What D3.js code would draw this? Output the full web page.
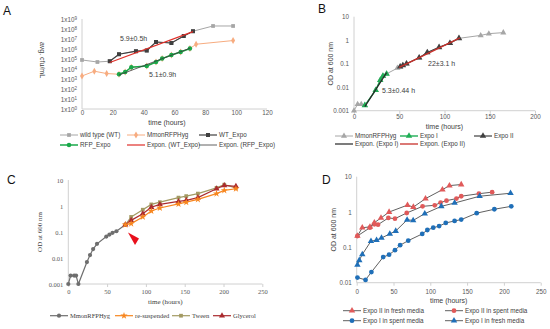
<!DOCTYPE html>
<html>
<head>
<meta charset="utf-8">
<script src="https://cdn.jsdelivr.net/npm/d3@7"></script>
<style>
  body { margin: 0; background: #fff; }
  svg { display: block; font-family: "Liberation Sans", Arial, sans-serif; }
  .serif { font-family: "Liberation Serif", "Times New Roman", serif; }
</style>
</head>
<body>
<svg id="chart" width="550" height="329"></svg>
<script>
// ---------- panel A data (hours, cfu/mL) ----------
const wtData      = [[0,8e4],[10,5e4],[18,6e4],[24,3e5],[35,6e5],[42,7e5],[48,5e6],[58,4e6],[66,2e7],[72,6e7],[85,2e8],[98,2e8]];
const wtExpoData  = [[18,6e4],[24,3e5],[35,6e5],[42,7e5],[48,5e6],[58,4e6],[66,2e7],[72,6e7]];
const rfpData     = [[0,2e3],[8,6e3],[16,3.5e3],[24,3e3],[28,5e3],[32,1.5e4],[42,2e4],[48,5e4],[52,1.1e5],[58,2.5e5],[64,5e5],[70,1.1e6],[74,3e6],[98,7e6]];
const rfpExpoData = [[24,3e3],[28,5e3],[32,1.5e4],[42,2e4],[48,5e4],[52,1.1e5],[58,2.5e5],[64,5e5],[70,1.1e6]];
const wtFit       = [[18,4.5e4],[72,5.4e7]];
const rfpFit      = [[24,2.5e3],[70,1.2e6]];
const aYTicks     = [1,1e1,1e2,1e3,1e4,1e5,1e6,1e7,1e8,1e9];
const aXTicks     = [0,20,40,60,80,100,120];

// ---------- panel B data (hours, OD600) ----------
const mmonB   = [[0,0.001],[4,0.0019],[8,0.0019],[12,0.0017],[24,0.0075],[29,0.02],[32,0.03],[36,0.037],[48,0.065],[51,0.075],[54,0.085],[58,0.1],[72,0.18],[81,0.3],[94,0.5],[106,0.75],[116,1.2],[140,1.6],[149,1.9],[165,2.1]];
const expoI   = [[12,0.0017],[24,0.0075],[29,0.02],[32,0.03],[36,0.037]];
const expoII  = [[51,0.075],[54,0.085],[58,0.1],[72,0.18],[81,0.3],[94,0.5],[106,0.75],[116,1.2]];
const expoIFit  = [[12,0.0015],[36,0.042]];
const expoIIFit = [[50,0.07],[117,1.25]];
const bYTicks = [0.001,0.01,0.1,1,10];
const bXTicks = [0,50,100,150,200];

// ---------- panel C data (hours, OD600) ----------
const mmonC       = [[0,0.001],[3,0.0021],[7.5,0.0021],[10,0.0021],[13,0.001],[24,0.007],[28,0.013],[32,0.022],[37,0.035],[49,0.067],[53,0.08],[57,0.093],[62,0.107],[73.5,0.19]];
const resuspended = [[73.5,0.19],[81,0.21],[96,0.38],[107,0.64],[118,0.84],[142,1.2],[152,1.4],[167,1.8],[191,3.0],[201,4.0],[216,4.6]];
const tween       = [[73.5,0.19],[81,0.38],[96,0.72],[107,1.15],[118,1.4],[142,2.1],[152,2.4],[167,3.0],[191,5.0],[201,6.6],[216,5.0]];
const glycerol    = [[73.5,0.19],[81,0.28],[96,0.5],[107,0.9],[118,1.15],[142,1.5],[152,1.65],[167,2.1],[191,4.6],[201,6.2],[216,5.7]];
const cYTicks = [0.001,0.01,0.1,1,10];
const cXTicks = [0,50,100,150,200,250];

// ---------- panel D data (hours, OD600) ----------
const expoIIFresh = [[1,0.21],[7.6,0.36],[18,0.38],[24,0.5],[33,0.68],[44,1.0],[69,1.57],[77,1.38],[93.5,2.4],[116.5,4.3],[126,5.6],[142,6.0]];
const expoIISpent = [[1,0.21],[18,0.36],[24,0.45],[29,0.44],[43,0.68],[52,0.65],[68,0.94],[89.5,1.45],[106,1.55],[114,1.85],[122,2.1],[135.5,2.4],[142,2.8],[166,3.3],[184,3.65]];
const expoISpent  = [[1,0.014],[12,0.012],[20,0.02],[36,0.053],[44,0.062],[52,0.083],[59,0.115],[70,0.155],[89,0.24],[96,0.31],[104,0.36],[112,0.4],[121,0.49],[133,0.56],[142,0.61],[163,0.93],[187,1.2],[210,1.45]];
const expoIFresh  = [[1,0.032],[3.5,0.043],[7.6,0.063],[19.4,0.15],[27,0.16],[33.7,0.185],[45,0.24],[53,0.29],[68.5,0.6],[76.7,0.58],[92.5,0.9],[115,1.45],[133,1.8],[167,2.8],[209,3.4]];
const dYTicks = [0.01,0.1,1,10];
const dXTicks = [0,50,100,150,200,250];

const svg = d3.select("#chart");
const axisGray = "#d0d0d0";
const tickText = "#595959";

function symbolPath(type, size) {
  const t = {square: d3.symbolSquare, circle: d3.symbolCircle, triangle: d3.symbolTriangle,
             diamond: d3.symbolDiamond, star: d3.symbolStar}[type];
  return d3.symbol().type(t).size(size)();
}

function drawSeries(g, data, x, y, st) {
  const line = d3.line().x(d => x(d[0])).y(d => y(d[1]));
  g.append("path").datum(data)
    .attr("fill", "none")
    .attr("stroke", st.line)
    .attr("stroke-width", st.width || 1)
    .attr("d", line);
  if (st.marker) {
    g.selectAll(null).data(data).enter().append("path")
      .attr("transform", d => `translate(${x(d[0])},${y(d[1])})`)
      .attr("d", symbolPath(st.marker, st.size || 14))
      .attr("fill", st.fill);
  }
}

function legendItem(g, lx, ly, st, label, cls, fs) {
  g.append("line").attr("x1", lx).attr("x2", lx + 18).attr("y1", ly).attr("y2", ly)
    .attr("stroke", st.line).attr("stroke-width", st.width || 1);
  if (st.marker) {
    g.append("path").attr("transform", `translate(${lx + 9},${ly})`)
      .attr("d", symbolPath(st.marker, st.size || 14)).attr("fill", st.fill);
  }
  g.append("text").attr("x", lx + 20).attr("y", ly).attr("dy", "0.33em")
    .attr("class", cls || null)
    .attr("font-size", fs || 6.3).attr("fill", "#404040").text(label);
}

function drawAxes(g, x, y, xTicks, yTicks, yFmt, opt) {
  opt = opt || {};
  const [x0, x1] = x.range();
  const [yb, yt] = y.range();
  const fs = opt.fs || 6.3;
  // axis lines
  g.append("line").attr("x1", x0).attr("x2", x1).attr("y1", yb).attr("y2", yb).attr("stroke", axisGray);
  g.append("line").attr("x1", x0).attr("x2", x0).attr("y1", yb).attr("y2", yt).attr("stroke", axisGray);
  const xa = g.append("g").attr("transform", `translate(0,${yb})`)
    .call(d3.axisBottom(x).tickValues(xTicks)
      .tickSize(opt.tick === undefined ? 3 : opt.tick)
      .tickPadding(opt.pad === undefined ? 2 : opt.pad)
      .tickSizeOuter(0).tickFormat(d3.format("d")));
  xa.select(".domain").remove();
  xa.selectAll("line").attr("stroke", axisGray);
  xa.selectAll("text").attr("fill", tickText).attr("font-size", fs)
    .attr("font-family", null).attr("class", opt.cls || null);
  const ya = g.append("g").attr("transform", `translate(${x0},0)`)
    .call(d3.axisLeft(y).tickValues(yTicks).tickSize(0).tickPadding(5).tickFormat(yFmt));
  ya.select(".domain").remove();
  ya.selectAll("text").attr("fill", tickText).attr("font-size", fs)
    .attr("font-family", null).attr("class", opt.cls || null);
  return ya;
}

function panelLetter(lx, ly, t) {
  svg.append("text").attr("x", lx).attr("y", ly).attr("font-size", 12).attr("fill", "#111").text(t);
}

function axisTitles(g, x, y, xt, yt, cls, xOff, yOff) {
  const [x0, x1] = x.range();
  const [yb, ytop] = y.range();
  g.append("text").attr("x", (x0 + x1) / 2).attr("y", yb + xOff).attr("text-anchor", "middle")
    .attr("font-size", 7).attr("fill", "#404040").attr("class", cls || null).text(xt);
  g.append("text").attr("transform", `translate(${x0 - yOff},${(yb + ytop) / 2}) rotate(-90)`)
    .attr("text-anchor", "middle").attr("font-size", 7).attr("fill", "#404040")
    .attr("class", cls || null).text(yt);
}

const odFmt = d => d >= 1 ? d3.format("d")(d) : String(d);

// ================= Panel A =================
{
  const x = d3.scaleLinear().domain([0, 120]).range([82, 267]);
  const y = d3.scaleLog().domain([1, 1e9]).range([109, 19]);
  const g = svg.append("g");
  const ya = drawAxes(g, x, y, aXTicks, aYTicks, () => "", {tick: 0, pad: 2});
  ya.selectAll("text").each(function(d) {
    const t = d3.select(this).text(null);
    t.append("tspan").text("1x10");
    t.append("tspan").attr("dy", "-0.4em").attr("font-size", 4.5).text(Math.round(Math.log10(d)));
  });
  g.append("text").attr("x", 167).attr("y", 125).attr("text-anchor", "middle")
    .attr("font-size", 7).attr("fill", "#404040").text("time (hours)");
  g.append("text").attr("transform", "translate(40,60) rotate(90)")
    .attr("text-anchor", "middle").attr("font-size", 7).attr("fill", "#404040").text("avg. cfu/mL");

  const stWT   = {line: "#a6a6a6", marker: "square", fill: "#a6a6a6", size: 14};
  const stRFP  = {line: "#f7ac80", marker: "diamond", fill: "#f7ac80", size: 14};
  const stWTE  = {line: "#404040", marker: "square", fill: "#404040", size: 16, width: 1.2};
  const stRFPE = {line: "#1aa84a", marker: "circle", fill: "#1aa84a", size: 16, width: 1.5};
  const stWTF  = {line: "#e0302a", width: 1.2};
  const stRFPF = {line: "#3a3a3a", width: 0.8};

  drawSeries(g, wtData, x, y, stWT);
  drawSeries(g, rfpData, x, y, stRFP);
  drawSeries(g, wtExpoData, x, y, stWTE);
  drawSeries(g, rfpExpoData, x, y, stRFPE);
  drawSeries(g, wtFit, x, y, stWTF);
  drawSeries(g, rfpFit, x, y, stRFPF);

  g.append("text").attr("x", 120).attr("y", 41).attr("font-size", 7).attr("fill", "#404040").text("5.9±0.5h");
  g.append("text").attr("x", 149).attr("y", 77).attr("font-size", 7).attr("fill", "#404040").text("5.1±0.9h");

  legendItem(g, 60, 135, stWT, "wild type (WT)");
  legendItem(g, 127, 135, stRFP, "MmonRFPHyg");
  legendItem(g, 199, 135, stWTE, "WT_Expo");
  legendItem(g, 60, 145, stRFPE, "RFP_Expo");
  legendItem(g, 127, 145, stWTF, "Expon. (WT_Expo)");
  legendItem(g, 199, 145, stRFPF, "Expon. (RFP_Expo)");
  panelLetter(3, 15, "A");
}

// ================= Panel B =================
{
  const x = d3.scaleLinear().domain([0, 200]).range([354, 535]);
  const y = d3.scaleLog().domain([0.001, 10]).range([110.7, 16.7]);
  const g = svg.append("g");
  drawAxes(g, x, y, bXTicks, bYTicks, odFmt, {tick: 3, pad: 1});
  axisTitles(g, x, y, "time (hours)", "OD at 600 nm", null, 18.5, 21);

  const stM   = {line: "#a6a6a6", marker: "triangle", fill: "#a6a6a6", size: 16};
  const stI   = {line: "#1fae55", marker: "triangle", fill: "#1fae55", size: 18, width: 1.4};
  const stII  = {line: "#404040", marker: "triangle", fill: "#404040", size: 18, width: 1.2};
  const stIF  = {line: "#262626", width: 1.2};
  const stIIF = {line: "#c8302a", width: 1.3};

  drawSeries(g, mmonB, x, y, stM);
  drawSeries(g, expoI, x, y, stI);
  drawSeries(g, expoII, x, y, stII);
  drawSeries(g, expoIFit, x, y, stIF);
  drawSeries(g, expoIIFit, x, y, stIIF);

  g.append("text").attr("x", 428).attr("y", 65.5).attr("font-size", 7).attr("fill", "#404040").text("22±3.1 h");
  g.append("text").attr("x", 382).attr("y", 92.5).attr("font-size", 7).attr("fill", "#404040").text("5.3±0.44 h");

  legendItem(g, 335, 136, stM, "MmonRFPHyg");
  legendItem(g, 400, 136, stI, "Expo I");
  legendItem(g, 474, 136, stII, "Expo II");
  legendItem(g, 335, 144, stIF, "Expon. (Expo I)");
  legendItem(g, 400, 144, stIIF, "Expon. (Expo II)");
  panelLetter(318, 13, "B");
}

// ================= Panel C =================
{
  const x = d3.scaleLinear().domain([0, 250]).range([68.3, 262.3]);
  const y = d3.scaleLog().domain([0.001, 10]).range([284, 180]);
  const g = svg.append("g");
  drawAxes(g, x, y, cXTicks, cYTicks, odFmt, {tick: 3, pad: 2.5, cls: "serif", fs: 6.5});
  axisTitles(g, x, y, "time (hours)", "OD at 600 nm", "serif", 20, 26);

  const stM  = {line: "#6e6e6e", marker: "circle", fill: "#6e6e6e", size: 14, width: 1.2};
  const stR  = {line: "#f7861f", marker: "star", fill: "#f7861f", size: 16, width: 1.2};
  const stT  = {line: "#a39a63", marker: "square", fill: "#a39a63", size: 14, width: 1.2};
  const stG  = {line: "#aa2a2e", marker: "triangle", fill: "#aa2a2e", size: 16, width: 1.2};

  drawSeries(g, mmonC, x, y, stM);
  drawSeries(g, tween, x, y, stT);
  drawSeries(g, glycerol, x, y, stG);
  drawSeries(g, resuspended, x, y, stR);

  // red arrowhead pointing at the branch point
  g.append("path").attr("d", "M128,232.5 L139,238.5 L135,245 Z").attr("fill", "#e8101c");

  legendItem(g, 50, 315.7, stM, "MmonRFPHyg", "serif", 6.5);
  legendItem(g, 115, 315.7, stR, "re-suspended", "serif", 6.5);
  legendItem(g, 172, 315.7, stT, "Tween", "serif", 6.5);
  legendItem(g, 213, 315.7, stG, "Glycerol", "serif", 6.5);
  panelLetter(7, 184, "C");
}

// ================= Panel D =================
{
  const x = d3.scaleLinear().domain([0, 250]).range([356.7, 540.7]);
  const y = d3.scaleLog().domain([0.01, 10]).range([282.7, 176.7]);
  const g = svg.append("g");
  drawAxes(g, x, y, dXTicks, dYTicks, odFmt, {tick: 3, pad: 3.5});
  axisTitles(g, x, y, "time (hours)", "OD at 600 nm", null, 20, 21);

  const stIIF = {line: "#606060", marker: "triangle", fill: "#e05a5a", size: 18};
  const stIIS = {line: "#606060", marker: "circle", fill: "#e05a5a", size: 18};
  const stIS  = {line: "#606060", marker: "circle", fill: "#1f6fb8", size: 18};
  const stIF  = {line: "#606060", marker: "triangle", fill: "#1f6fb8", size: 18};

  drawSeries(g, expoIISpent, x, y, stIIS);
  drawSeries(g, expoIIFresh, x, y, stIIF);
  drawSeries(g, expoISpent, x, y, stIS);
  drawSeries(g, expoIFresh, x, y, stIF);

  legendItem(g, 343, 310.7, stIIF, "Expo II in fresh media");
  legendItem(g, 445, 310.7, stIIS, "Expo II in  spent media");
  legendItem(g, 343, 320.7, stIS, "Expo I in spent media");
  legendItem(g, 445, 320.7, stIF, "Expo I in fresh media");
  panelLetter(322, 184, "D");
}
</script>
</body>
</html>
